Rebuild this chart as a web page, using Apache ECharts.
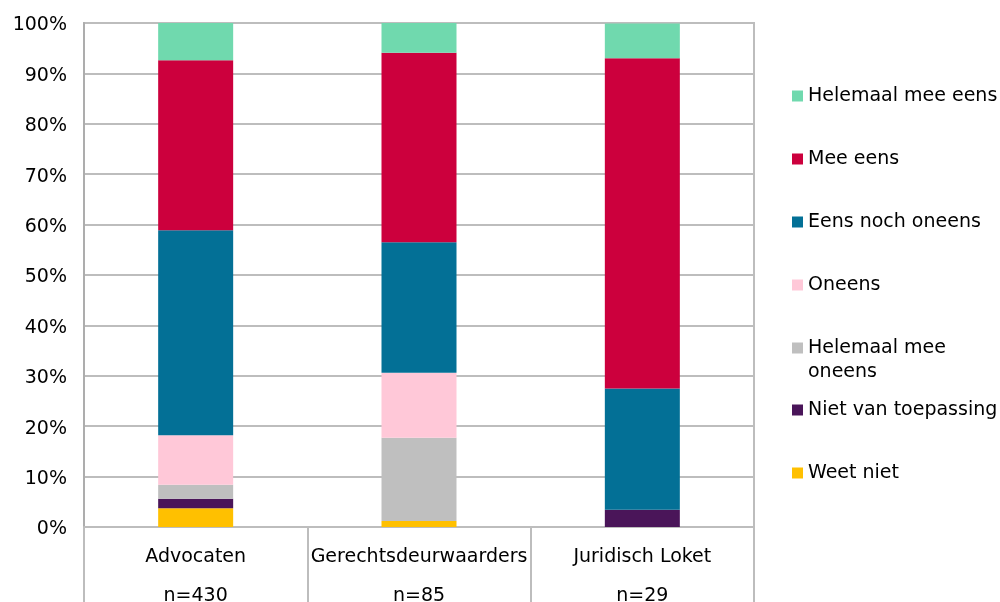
<!DOCTYPE html>
<html>
<head>
<meta charset="utf-8">
<script src="https://cdn.jsdelivr.net/npm/echarts@6/dist/echarts.min.js"></script>
<style>
html,body{margin:0;padding:0;background:#fff;}
#chart{width:1000px;height:602px;}
</style>
</head>
<body>
<div id="chart"></div>
<script>
// Categories and sample sizes
var categories = ['Advocaten', 'Gerechtsdeurwaarders', 'Juridisch Loket'];
var sampleSizes = ['n=430', 'n=85', 'n=29'];

// Series (bottom to top of the stack), values in %
var seriesNames = ['Weet niet', 'Niet van toepassing', 'Helemaal mee oneens', 'Oneens', 'Eens noch oneens', 'Mee eens', 'Helemaal mee eens'];
var weetNiet          = [3.7, 1.2, 0];
var nietVanToepassing = [1.9, 0, 3.4];
var helemaalMeeOneens = [2.8, 16.5, 0];
var oneens            = [9.8, 12.9, 0];
var eensNochOneens    = [40.7, 25.9, 24.1];
var meeEens           = [33.7, 37.6, 65.5];
var helemaalMeeEens   = [7.4, 5.9, 6.9];

// Y axis ticks
var yMin = 0, yMax = 100, yStep = 10;

var seriesValues = [weetNiet, nietVanToepassing, helemaalMeeOneens, oneens, eensNochOneens, meeEens, helemaalMeeEens];
var seriesColors = ['#FFC000', '#4A1559', '#BFBFBF', '#FFC8D8', '#037096', '#CC003D', '#70D9AE'];

var FONT = 'DejaVu Sans';
var GRID = '#BDBDBD';

var series = seriesNames.map(function (name, i) {
  return {
    name: name,
    type: 'bar',
    stack: 'total',
    barWidth: 75,
    itemStyle: { color: seriesColors[i] },
    emphasis: { disabled: true },
    data: seriesValues[i]
  };
});

var legendCommon = {
  orient: 'vertical',
  left: 792,
  padding: 0,
  itemWidth: 11,
  itemHeight: 11,
  itemGap: 39,
  icon: 'rect',
  selectedMode: false,
  textStyle: { fontFamily: FONT, fontSize: 19, color: '#000', lineHeight: 24 }
};

var chart = echarts.init(document.getElementById('chart'), null, { renderer: 'canvas' });
chart.setOption({
  animation: false,
  backgroundColor: '#fff',
  grid: {
    left: 84, right: 246, top: 23, bottom: 75,
    outerBoundsMode: 'none', containLabel: false,
    show: true, borderColor: GRID, borderWidth: 2
  },
  legend: [
    Object.assign({}, legendCommon, {
      top: 84,
      data: ['Helemaal mee eens', 'Mee eens', 'Eens noch oneens', 'Oneens']
    }),
    Object.assign({}, legendCommon, {
      top: 312,
      data: ['Helemaal mee oneens'],
      formatter: function () { return '\nHelemaal mee\noneens'; }
    }),
    Object.assign({}, legendCommon, {
      top: 398,
      data: ['Niet van toepassing', 'Weet niet']
    })
  ],
  xAxis: {
    type: 'category',
    data: categories,
    axisLine: { show: true, lineStyle: { color: GRID, width: 2 } },
    axisTick: { show: true, interval: 0, length: 75, lineStyle: { color: GRID, width: 2 } },
    axisLabel: {
      interval: 0, hideOverlap: false,
      fontFamily: FONT, fontSize: 19, color: '#000', lineHeight: 39, margin: 10.5,
      formatter: function (v, idx) { return v + '\n' + sampleSizes[idx]; }
    }
  },
  yAxis: {
    type: 'value',
    min: yMin, max: yMax, interval: yStep,
    axisLine: { show: true, lineStyle: { color: '#ADADAD', width: 2 } },
    axisTick: { show: false },
    splitLine: { show: true, lineStyle: { color: GRID, width: 2 } },
    axisLabel: {
      margin: 17,
      formatter: function (v) { return '{a|' + v + '%}'; },
      rich: { a: { fontFamily: FONT, fontSize: 19, color: '#000', padding: [5, 0, 0, 0] } }
    }
  },
  series: series
});
</script>
</body>
</html>
